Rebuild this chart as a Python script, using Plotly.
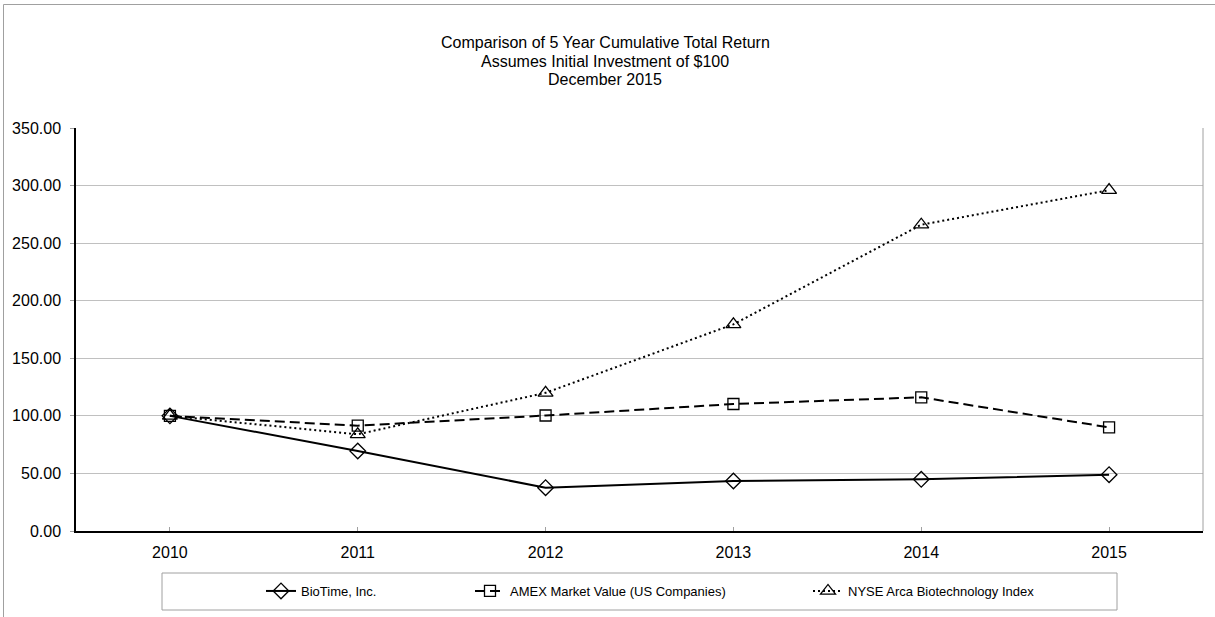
import plotly.graph_objects as go

years = ["2010", "2011", "2012", "2013", "2014", "2015"]
biotime = [100.0, 69.5, 37.6, 43.4, 44.9, 48.9]
amex = [100.0, 91.5, 100.3, 110.3, 116.1, 90.0]
nyse = [100.0, 84.0, 120.0, 179.5, 266.0, 296.0]
series_names = ["BioTime, Inc.", "AMEX Market Value (US Companies)", "NYSE Arca Biotechnology Index"]
title_lines = ["Comparison of 5 Year Cumulative Total Return",
               "Assumes Initial Investment of $100",
               "December 2015"]

W, H = 1215, 617
L, R, T, B = 76, 1203, 128, 531  # plot area pixels
FONT = "Liberation Sans, Arial, sans-serif"


def px(xp):
    return (xp - L) / (R - L)


def py(yp):
    return (B - yp) / (B - T)


fig = go.Figure()
fig.add_trace(go.Scatter(
    x=years, y=biotime, name=series_names[0], mode="lines+markers",
    line=dict(color="black", width=2),
    marker=dict(symbol="diamond-open", size=12, color="black", line=dict(width=1.3)),
    legend="legend"))
fig.add_trace(go.Scatter(
    x=years, y=amex, name=series_names[1], mode="lines+markers",
    line=dict(color="black", width=2, dash="10px,5px"),
    marker=dict(symbol="square-open", size=11, color="black", line=dict(width=1.3)),
    legend="legend2"))
fig.add_trace(go.Scatter(
    x=years, y=nyse, name=series_names[2], mode="lines+markers",
    line=dict(color="black", width=2, dash="2px,3px"),
    marker=dict(symbol="triangle-up-open", size=13, color="black", line=dict(width=1.3)),
    legend="legend3"))

legend_common = dict(orientation="h", xref="container", yref="container",
                     xanchor="left", yanchor="middle", y=1 - 591 / H,
                     bgcolor="rgba(0,0,0,0)", borderwidth=0,
                     font=dict(family=FONT, size=13, color="black"))

title_y = [43, 61, 79]
annotations = [
    dict(text=t, xref="paper", yref="paper", x=px(605), y=py(yc),
         xanchor="center", yanchor="middle", showarrow=False,
         font=dict(family=FONT, size=16, color="black"))
    for t, yc in zip(title_lines, title_y)
]

fig.update_layout(
    width=W, height=H,
    margin=dict(l=L, r=W - R, t=T, b=H - B),
    paper_bgcolor="white", plot_bgcolor="white",
    font=dict(family=FONT, color="black"),
    annotations=annotations,
    showlegend=True,
    legend=dict(legend_common, x=261 / W),
    legend2=dict(legend_common, x=470 / W),
    legend3=dict(legend_common, x=808 / W),
    xaxis=dict(
        type="category", range=[-0.5, 5.5],
        showline=True, linecolor="black", linewidth=1.5,
        ticks="inside", ticklen=4, tickcolor="#a0a0a0",
        showgrid=False, zeroline=False,
        tickfont=dict(family=FONT, size=16, color="black"),
        ticklabelstandoff=6),
    yaxis=dict(
        range=[0, 350], dtick=50, tickformat=".2f",
        showline=True, linecolor="black", linewidth=1.5,
        ticks="outside", ticklen=4, tickcolor="#a0a0a0",
        showgrid=True, gridcolor="#c0c0c0", gridwidth=1,
        zeroline=False,
        tickfont=dict(family=FONT, size=16, color="black"),
        ticklabelstandoff=6),
    shapes=[
        dict(type="line", xref="paper", yref="paper", x0=1, x1=1, y0=0, y1=1,
             line=dict(color="#a0a0a0", width=1)),
        dict(type="rect", xref="paper", yref="paper",
             x0=px(162), x1=px(1117), y0=py(610), y1=py(573),
             line=dict(color="#a0a0a0", width=1)),
        dict(type="line", xref="paper", yref="paper",
             x0=px(3.5), x1=px(3.5), y0=py(617), y1=py(4.5),
             line=dict(color="#a0a0a0", width=1)),
        dict(type="line", xref="paper", yref="paper",
             x0=px(3.5), x1=px(1215), y0=py(4.5), y1=py(4.5),
             line=dict(color="#a0a0a0", width=1)),
    ],
)

fig.write_html("out.html")
